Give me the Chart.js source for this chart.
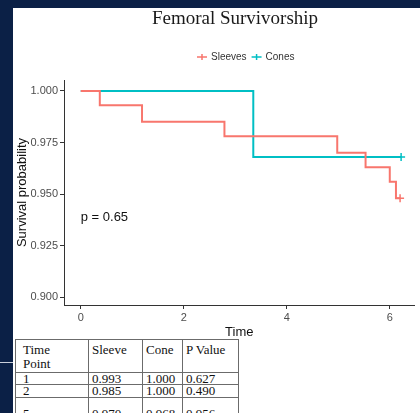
<!DOCTYPE html>
<html>
<head>
<meta charset="utf-8">
<script src="https://cdn.jsdelivr.net/npm/chart.js@4.4.1/dist/chart.umd.min.js"></script>
<style>
  html, body { margin: 0; padding: 0; }
  body { width: 420px; height: 413px; background: #0b2046; overflow: hidden; position: relative; }
  #pannello { position: absolute; left: 13px; top: 8px; width: 407px; height: 405px; background: #fff; }
  #linea { position: absolute; left: 0; top: 362px; width: 13px; height: 1px; background: #c9ceda; }
  #grafico { position: absolute; left: 0; top: 0; }
  #titolo { position: absolute; left: 0; top: 8px; width: 470px; text-align: center;
            font: 19px/19px "Liberation Serif", "Times New Roman", serif; color: #1a1a1a; }
  #tabella { position: absolute; left: 15px; top: 339px; border-collapse: collapse; table-layout: fixed;
             background: #fff; font: 13px "Liberation Serif", "Times New Roman", serif; color: #111; }
  #tabella td { border: 1px solid #6b6b6b; padding: 0 0 0 3px; line-height: 11.4px; height: 11.4px;
                vertical-align: top; white-space: nowrap; overflow: hidden; }
  #tabella tr.testa td { line-height: 14px; height: 29px; padding-top: 3px; white-space: pre-line; }
  #tabella tr.ultima td { padding-top: 10px; }
  #tabella td:first-child { padding-left: 7px; }
</style>
</head>
<body>
<div id="pannello"></div>
<div id="linea"></div>
<canvas id="grafico" width="420" height="413"></canvas>
<div id="titolo">Femoral Survivorship</div>
<table id="tabella">
  <colgroup><col style="width:73px"><col style="width:54px"><col style="width:40px"><col style="width:56px"></colgroup>
  <tbody id="corpo"></tbody>
</table>
<script>
// curve di sopravvivenza (Kaplan-Meier)
const tempiSleeve = [0, 0.37, 1.19, 2.79, 4.98, 5.53, 6.0, 6.12, 6.2];
const survSleeve = [1.000, 0.993, 0.985, 0.978, 0.970, 0.963, 0.956, 0.948, 0.948];
const tempiCone = [0, 3.35, 6.22];
const survCone = [1.000, 0.968, 0.968];

const tickX = [0, 2, 4, 6];
const tickY = [0.900, 0.925, 0.950, 0.975, 1.000];

// tabella
const intestazioni = ['Time\nPoint', 'Sleeve', 'Cone', 'P Value'];
const puntiTempo = ['1', '2', '5'];
const tabSleeve = ['0.993', '0.985', '0.970'];
const tabCone = ['1.000', '1.000', '0.968'];
const tabP = ['0.627', '0.490', '0.956'];

const corpo = document.getElementById('corpo');
const testa = document.createElement('tr');
testa.className = 'testa';
intestazioni.forEach(h => {
    const td = document.createElement('td');
    td.textContent = h;
    testa.appendChild(td);
});
corpo.appendChild(testa);
puntiTempo.forEach((p, i) => {
    const tr = document.createElement('tr');
    if (i === puntiTempo.length - 1) tr.className = 'ultima';
    [p, tabSleeve[i], tabCone[i], tabP[i]].forEach(v => {
        const td = document.createElement('td');
        td.textContent = v;
        tr.appendChild(td);
    });
    corpo.appendChild(tr);
});

const rosso = '#f8766d';
const verde = '#00bfc4';
const fontSans = '"Liberation Sans", Arial, sans-serif';

function punti(tempi, valori) {
    return tempi.map((t, i) => ({ x: t, y: valori[i] }));
}

// crocetta di censura solo sull'ultimo punto
function raggioCensura(ctx) {
    return ctx.dataIndex === ctx.dataset.data.length - 1 ? 4 : 0;
}

const extra = {
    id: 'extra',
    afterDraw(chart) {
        const ctx = chart.ctx;
        // legenda: linea con crocetta + etichetta
        ctx.save();
        ctx.font = '10px ' + fontSans;
        ctx.textBaseline = 'middle';
        const cy = 57;
        let x = 197;
        chart.data.datasets.forEach(d => {
            ctx.strokeStyle = d.borderColor;
            ctx.lineWidth = 1.5;
            ctx.beginPath();
            ctx.moveTo(x, cy);
            ctx.lineTo(x + 10, cy);
            ctx.moveTo(x + 5, cy - 3);
            ctx.lineTo(x + 5, cy + 3);
            ctx.stroke();
            ctx.fillStyle = '#333';
            ctx.fillText(d.label, x + 14, cy);
            x += 14 + ctx.measureText(d.label).width + 5;
        });
        // p-value
        const px = chart.scales.x.getPixelForValue(0);
        const py = chart.scales.y.getPixelForValue(0.9385);
        ctx.font = '13px ' + fontSans;
        ctx.fillStyle = '#111';
        ctx.fillText('p = 0.65', px, py);
        ctx.restore();
    }
};

const grafico = new Chart(document.getElementById('grafico'), {
    type: 'line',
    data: {
        datasets: [{
            label: 'Sleeves',
            data: punti(tempiSleeve, survSleeve),
            borderColor: rosso,
            backgroundColor: rosso,
            borderWidth: 2,
            stepped: true,
            fill: false,
            pointStyle: 'cross',
            pointRadius: raggioCensura,
            pointBorderWidth: 1.5,
            pointBorderColor: rosso
        }, {
            label: 'Cones',
            data: punti(tempiCone, survCone),
            borderColor: verde,
            backgroundColor: verde,
            borderWidth: 2,
            stepped: true,
            fill: false,
            pointStyle: 'cross',
            pointRadius: raggioCensura,
            pointBorderWidth: 1.5,
            pointBorderColor: verde
        }]
    },
    options: {
        responsive: false,
        animation: false,
        devicePixelRatio: 1,
        events: [],
        layout: { padding: { top: 80, left: 0, right: 0, bottom: 68 } },
        plugins: {
            tooltip: { enabled: false },
            title: { display: false },
            legend: { display: false }
        },
        scales: {
            x: {
                type: 'linear',
                min: -0.325,
                max: 6.48,
                afterBuildTicks: s => { s.ticks = tickX.map(v => ({ value: v })); },
                afterFit: s => { s.height = 40; },
                ticks: {
                    callback: v => String(v),
                    font: { size: 11, family: fontSans },
                    color: '#4d4d4d',
                    padding: 2,
                    maxRotation: 0
                },
                grid: { drawOnChartArea: false, tickLength: 4, color: '#333', tickColor: '#333' },
                border: { color: '#333', width: 1 },
                title: {
                    display: true,
                    text: 'Time',
                    font: { size: 13, family: fontSans },
                    color: '#111',
                    padding: { top: 0, bottom: 5 }
                }
            },
            y: {
                type: 'linear',
                min: 0.8962,
                max: 1.0053,
                afterBuildTicks: s => { s.ticks = tickY.map(v => ({ value: v })); },
                afterFit: s => { s.width = 64; },
                ticks: {
                    callback: v => v.toFixed(3),
                    font: { size: 11, family: fontSans },
                    color: '#4d4d4d',
                    padding: 2
                },
                grid: { drawOnChartArea: false, tickLength: 4, color: '#333', tickColor: '#333' },
                border: { color: '#333', width: 1 },
                title: {
                    display: true,
                    text: 'Survival probability',
                    font: { size: 13, family: fontSans },
                    color: '#111',
                    padding: { top: 15, bottom: 0 }
                }
            }
        }
    },
    plugins: [extra]
});
</script>
</body>
</html>
